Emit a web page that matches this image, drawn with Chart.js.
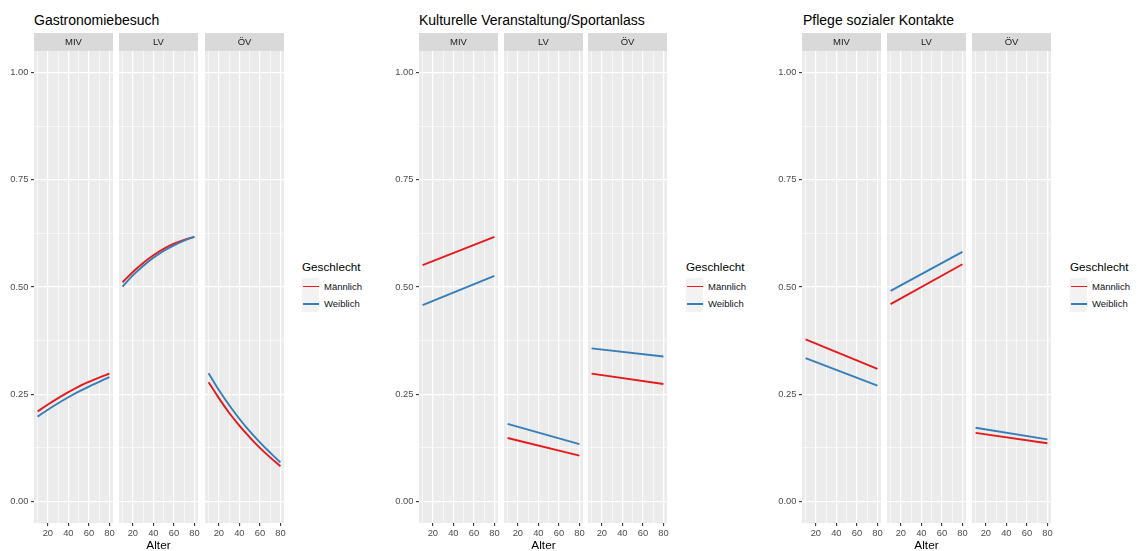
<!DOCTYPE html>
<html>
<head>
<meta charset="utf-8">
<script src="https://cdn.jsdelivr.net/npm/chart.js@4.4.1/dist/chart.umd.min.js"></script>
<style>
  html, body { margin: 0; padding: 0; background: #fff; overflow: hidden; width: 1137px; height: 551px; }
  body { position: relative; font-family: "Liberation Sans", Arial, sans-serif; }
  canvas { position: absolute; }
  .title { position: absolute; font-size: 14px; line-height: 14px; color: #000; white-space: nowrap; }
  .lg-title { position: absolute; font-size: 11.7px; line-height: 12px; color: #000; white-space: nowrap; }
  .key { position: absolute; width: 17px; height: 17px; background: #f2f2f2; }
  .key i { position: absolute; left: 1px; right: 0; top: 7.6px; height: 1.9px; }
  .lg-label { position: absolute; font-size: 9.5px; line-height: 10px; color: #111; white-space: nowrap; }
</style>
</head>
<body>
<script>
// ---- data ----------------------------------------------------------------
const ageSteps = [10, 20, 30, 40, 50, 60, 70, 80];   // ages for the curved series
const ageEnds = [10, 80];                            // ages for the straight series
const facetNames = ['MIV', 'LV', 'ÖV'];
const genderNames = ['Männlich', 'Weiblich'];
const xTickValues = [10, 20, 30, 40, 50, 60, 70, 80];
const xTickLabels = ['', '20', '', '40', '', '60', '', '80'];
const yTickValues = [0, 0.125, 0.25, 0.375, 0.5, 0.625, 0.75, 0.875, 1];
const yTickLabels = ['0.00', '', '0.25', '', '0.50', '', '0.75', '', '1.00'];
const panelTitles = ['Gastronomiebesuch', 'Kulturelle Veranstaltung/Sportanlass', 'Pflege sozialer Kontakte'];
const xAxisTitle = 'Alter';
const legendTitle = 'Geschlecht';

// Gastronomiebesuch
const gastroMIV_m = [0.210, 0.226, 0.241, 0.255, 0.268, 0.279, 0.289, 0.298];
const gastroMIV_w = [0.198, 0.214, 0.229, 0.243, 0.256, 0.268, 0.279, 0.290];
const gastroLV_m  = [0.511, 0.535, 0.556, 0.574, 0.589, 0.601, 0.610, 0.617];
const gastroLV_w  = [0.501, 0.527, 0.549, 0.568, 0.584, 0.597, 0.608, 0.617];
const gastroOV_m  = [0.278, 0.241, 0.207, 0.177, 0.150, 0.125, 0.103, 0.082];
const gastroOV_w  = [0.299, 0.260, 0.225, 0.193, 0.164, 0.138, 0.114, 0.091];

// Kulturelle Veranstaltung/Sportanlass
const kulturMIV_m = [0.551, 0.617];
const kulturMIV_w = [0.458, 0.526];
const kulturLV_m  = [0.148, 0.107];
const kulturLV_w  = [0.181, 0.134];
const kulturOV_m  = [0.298, 0.274];
const kulturOV_w  = [0.357, 0.338];

// Pflege sozialer Kontakte
const sozialMIV_m = [0.378, 0.309];
const sozialMIV_w = [0.334, 0.270];
const sozialLV_m  = [0.460, 0.553];
const sozialLV_w  = [0.491, 0.582];
const sozialOV_m  = [0.160, 0.136];
const sozialOV_w  = [0.172, 0.145];

// ---- style & layout ------------------------------------------------------
const FONT = '"Liberation Sans", Arial, sans-serif';
const genderColors = ['#E41A1C', '#377EB8'];
const PANEL_BG = '#EBEBEB';
const STRIP_BG = '#D9D9D9';
const GRID = '#FFFFFF';

const CANVAS_TOP = 33;      // strip top
const CANVAS_H = 518;
const STRIP_H = 18;
const XAXIS_H = 28;
const FACET_W = 79;
const YAXIS_W = 34;
const RIGHT_PAD = 6;

const panels = [
  { title: panelTitles[0], titleX: 34, facetX: [34, 119, 205], legendX: 302, ages: ageSteps,
    series: [[gastroMIV_m, gastroMIV_w], [gastroLV_m, gastroLV_w], [gastroOV_m, gastroOV_w]], smooth: true },
  { title: panelTitles[1], titleX: 419, facetX: [419, 504, 588], legendX: 686, ages: ageEnds,
    series: [[kulturMIV_m, kulturMIV_w], [kulturLV_m, kulturLV_w], [kulturOV_m, kulturOV_w]], smooth: false },
  { title: panelTitles[2], titleX: 803, facetX: [802, 887, 972], legendX: 1070, ages: ageEnds,
    series: [[sozialMIV_m, sozialMIV_w], [sozialLV_m, sozialLV_w], [sozialOV_m, sozialOV_w]], smooth: false }
];

// panel background and facet strip
const facetDecor = {
  id: 'facetDecor',
  beforeDraw(chart, args, opts) {
    const { ctx, chartArea: a } = chart;
    ctx.save();
    ctx.fillStyle = PANEL_BG;
    ctx.fillRect(a.left, a.top, a.right - a.left, a.bottom - a.top);
    ctx.fillStyle = STRIP_BG;
    ctx.fillRect(a.left, 0, a.right - a.left, a.top);
    ctx.fillStyle = '#1A1A1A';
    ctx.font = '9.5px ' + FONT;
    ctx.textAlign = 'center';
    ctx.textBaseline = 'middle';
    ctx.fillText(opts.label, (a.left + a.right) / 2, a.top / 2 + 0.5);
    ctx.restore();
  }
};

const isMajorY = v => yTickLabels[yTickValues.indexOf(v)] !== '';
const isMajorX = v => xTickLabels[xTickValues.indexOf(v)] !== '';

function facetChart(left, facetIdx, ages, mVals, wVals, smooth, showY, showXTitle) {
  const canvas = document.createElement('canvas');
  const w = FACET_W + (showY ? YAXIS_W : 0) + RIGHT_PAD;
  canvas.width = w; canvas.height = CANVAS_H;
  canvas.style.width = w + 'px'; canvas.style.height = CANVAS_H + 'px';
  canvas.style.left = (left - (showY ? YAXIS_W : 0)) + 'px';
  canvas.style.top = CANVAS_TOP + 'px';
  document.body.appendChild(canvas);

  const mk = (vals, g) => ({
    label: genderNames[g],
    data: ages.map((a, i) => ({ x: a, y: vals[i] })),
    borderColor: genderColors[g],
    borderWidth: 1.9,
    pointRadius: 0,
    fill: false,
    tension: smooth ? 0.4 : 0,
    order: 2 - g
  });

  return new Chart(canvas, {
    type: 'line',
    data: { datasets: [mk(mVals, 0), mk(wVals, 1)] },
    options: {
      responsive: false,
      devicePixelRatio: 1,
      animation: false,
      events: [],
      layout: { padding: { top: STRIP_H, right: RIGHT_PAD, left: 0, bottom: 0 } },
      plugins: {
        legend: { display: false },
        tooltip: { enabled: false },
        facetDecor: { label: facetNames[facetIdx] }
      },
      scales: {
        x: {
          type: 'linear', min: 6.5, max: 83.5,
          afterBuildTicks: s => { s.ticks = xTickValues.map(v => ({ value: v })); },
          afterFit: s => { s.height = XAXIS_H; },
          border: { display: false },
          grid: {
            color: GRID,
            lineWidth: c => (c.tick && isMajorX(c.tick.value)) ? 1.2 : 0.6,
            drawTicks: true, tickLength: 3, tickWidth: 1.1,
            tickColor: c => (c.tick && isMajorX(c.tick.value)) ? '#333333' : 'rgba(0,0,0,0)'
          },
          ticks: {
            autoSkip: false, maxRotation: 0, padding: 2, color: '#4D4D4D',
            font: { family: FONT, size: 9.4 },
            callback: v => xTickLabels[xTickValues.indexOf(v)] ?? ''
          },
          title: {
            display: showXTitle, text: xAxisTitle, color: '#000',
            font: { family: FONT, size: 11.8, lineHeight: 0.85 }, padding: 0
          }
        },
        y: {
          type: 'linear', min: -0.05, max: 1.05,
          afterBuildTicks: s => { s.ticks = yTickValues.map(v => ({ value: v })); },
          afterFit: s => { s.width = showY ? YAXIS_W : 0; },
          border: { display: false },
          grid: {
            color: GRID,
            lineWidth: c => (c.tick && isMajorY(c.tick.value)) ? 1.2 : 0.6,
            drawTicks: showY, tickLength: 3, tickWidth: 1.1,
            tickColor: c => (c.tick && isMajorY(c.tick.value)) ? '#333333' : 'rgba(0,0,0,0)'
          },
          ticks: {
            display: showY, padding: 2.5, color: '#4D4D4D',
            font: { family: FONT, size: 9.4 },
            callback: v => yTickLabels[yTickValues.indexOf(v)] ?? ''
          }
        }
      }
    },
    plugins: [facetDecor]
  });
}

function addDiv(cls, text, x, y) {
  const d = document.createElement('div');
  d.className = cls;
  if (text !== null) d.textContent = text;
  d.style.left = x + 'px';
  d.style.top = y + 'px';
  document.body.appendChild(d);
  return d;
}

panels.forEach(p => {
  addDiv('title', p.title, p.titleX, 12.6);
  p.facetX.forEach((fx, fi) => {
    facetChart(fx, fi, p.ages, p.series[fi][0], p.series[fi][1], p.smooth, fi === 0, fi === 1);
  });
  // legend
  addDiv('lg-title', legendTitle, p.legendX, 260.6);
  genderNames.forEach((g, gi) => {
    const top = 278 + gi * 17.3;
    const key = addDiv('key', null, p.legendX, top);
    const line = document.createElement('i');
    line.style.background = genderColors[gi];
    key.appendChild(line);
    addDiv('lg-label', g, p.legendX + 22, top + 3.7);
  });
});
</script>
</body>
</html>
